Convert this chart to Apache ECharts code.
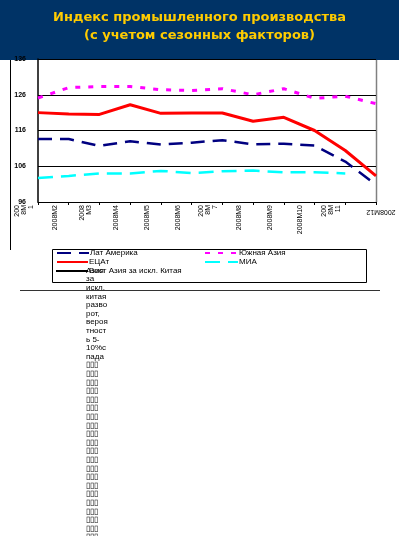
<!DOCTYPE html>
<html>
<head>
<meta charset="utf-8">
<script src="https://cdn.jsdelivr.net/npm/echarts@6/dist/echarts.min.js"></script>
<style>
  html, body { margin: 0; padding: 0; background: #fff; }
  #chart { width: 399px; height: 536px; }
</style>
</head>
<body>
<div id="chart"></div>
<script>
// месяцы и подписи оси
const months = ['2008M1', '2008M2', '2008M3', '2008M4', '2008M5', '2008M6',
  '2008M7', '2008M8', '2008M9', '2008M10', '2008M11', '2008M12'];
const monthLabels = ['200\n8M\n1', '2008M2', '2008\nM3', '2008M4', '2008M5', '2008M6',
  '200\n8M\n7', '2008M8', '2008M9', '2008M10', '200\n8M\n11', '2008M12'];

// ось Y
const yMin = 96;
const yMax = 136;
const yStep = 10;

// ряды
const latAm = [113.6, 113.6, 111.7, 113.0, 112.1, 112.6, 113.3, 112.1, 112.3, 111.8, 107.3, 100.8];
const southAsia = [125.1, 128.0, 128.3, 128.3, 127.4, 127.2, 127.7, 126.0, 127.7, 125.0, 125.6, 123.5];
const ecaAsia = [121.0, 120.6, 120.5, 123.2, 120.8, 120.9, 120.9, 118.6, 119.7, 116.0, 110.4, 103.3];
const mia = [102.7, 103.3, 104.0, 104.0, 104.7, 104.1, 104.6, 104.8, 104.3, 104.3, 104.0, null];
const eastAsia = [];

// хвост подписи легенды, который вылез за рамку
const overflowLines = ['Азия', 'за', 'искл.', 'китая', 'разво', 'рот,', 'вероя', 'тност', 'ь 5-', '10%с', 'пада']
  .concat(new Array(22).fill('▯▯▯'));

const font = '"Liberation Sans", Arial, sans-serif';

const myChart = echarts.init(document.getElementById('chart'));

const legendItem = (name, left, top, w) => ({
  data: [name],
  left: left,
  top: top,
  padding: 0,
  itemWidth: w,
  itemHeight: 8,
  itemGap: 0,
  itemStyle: { opacity: 0 },
  textStyle: { fontFamily: font, fontSize: 8, color: '#000', lineHeight: 9, padding: [0, 0, 0, -4] },
  selectedMode: false
});

const option = {
  animation: false,
  backgroundColor: '#fff',
  title: {
    text: 'Индекс промышленного производства\n(с учетом сезонных факторов)',
    left: 'center',
    top: 4,
    z: 10,
    textStyle: {
      color: '#FFCC00',
      fontFamily: '"DejaVu Sans", Verdana, sans-serif',
      fontWeight: 'bold',
      fontSize: 13,
      lineHeight: 18
    }
  },
  grid: { left: 38, right: 23, top: 59, bottom: 334 },
  xAxis: {
    type: 'category',
    data: months,
    boundaryGap: false,
    axisLine: { lineStyle: { color: '#000', width: 1 } },
    axisTick: { show: true, length: 3, lineStyle: { color: '#000' } },
    axisLabel: {
      interval: 0,
      rotate: 90,
      margin: 3,
      fontFamily: font,
      fontSize: 7,
      lineHeight: 7,
      color: '#000',
      // пустые строки сдвигают повернутую подпись влево от засечки
      formatter: (v, i) => (i === months.length - 1 ? '' : monthLabels[i] + '\n \n \n \n ')
    },
    splitLine: { show: false }
  },
  yAxis: {
    type: 'value',
    min: yMin,
    max: yMax,
    interval: yStep,
    axisLine: { show: true, lineStyle: { color: '#000', width: 1.5 } },
    axisTick: { show: false },
    axisLabel: { fontFamily: font, fontSize: 7, fontWeight: 'bold', color: '#000', margin: 12 },
    splitLine: { show: true, lineStyle: { color: '#000', width: 1 } }
  },
  legend: [
    legendItem('Лат Америка', 56, 248.5, 32),
    legendItem('ЕЦАт', 56, 257.5, 31),
    legendItem('Вост Азия за искл. Китая', 55, 266.5, 32),
    legendItem('Южная Азия', 204, 248.5, 33),
    legendItem('МИА', 204, 257.5, 33)
  ],
  series: [
    {
      name: 'Лат Америка', type: 'line', data: latAm, symbol: 'none', z: 4,
      color: '#000080',
      lineStyle: { color: '#000080', width: 2.5, type: [14, 8] }
    },
    {
      name: 'Южная Азия', type: 'line', data: southAsia, symbol: 'none', z: 3,
      color: '#FF00FF',
      lineStyle: { color: '#FF00FF', width: 3, type: [5, 8] }
    },
    {
      name: 'ЕЦАт', type: 'line', data: ecaAsia, symbol: 'none', z: 5,
      color: '#FF0000',
      lineStyle: { color: '#FF0000', width: 3 }
    },
    {
      name: 'МИА', type: 'line', data: mia, symbol: 'none', z: 3,
      color: '#00FFFF',
      lineStyle: { color: '#00FFFF', width: 2.5, type: [15, 8] }
    },
    {
      name: 'Вост Азия за искл. Китая', type: 'line', data: eastAsia, symbol: 'none',
      color: '#000000',
      lineStyle: { color: '#000000', width: 2.5 }
    }
  ],
  graphic: [
    // шапка слайда
    { type: 'rect', z: -10, shape: { x: 0, y: 0, width: 399, height: 60 }, style: { fill: '#003366' } },
    // рамка диаграммы
    { type: 'line', z: -5, shape: { x1: 10.5, y1: 60, x2: 10.5, y2: 250 }, style: { stroke: '#000', lineWidth: 1 } },
    { type: 'line', z: -5, shape: { x1: 376.5, y1: 60, x2: 376.5, y2: 202 }, style: { stroke: '#808080', lineWidth: 1.5 } },
    // рамка легенды
    { type: 'rect', z: -5, shape: { x: 52.5, y: 249.5, width: 314, height: 33 }, style: { fill: 'none', stroke: '#000', lineWidth: 1 } },
    { type: 'line', z: -5, shape: { x1: 20, y1: 290.5, x2: 380, y2: 290.5 }, style: { stroke: '#333', lineWidth: 1 } },
    // последняя подпись оси, перевёрнутая
    {
      type: 'text', x: 381, y: 212, rotation: Math.PI,
      style: { text: monthLabels[11], font: '7px ' + font, fill: '#000', align: 'center', verticalAlign: 'middle' }
    },
    // продолжение текста легенды
    {
      type: 'text', x: 86, y: 266.2,
      style: { text: overflowLines.join('\n'), font: '8px ' + font, lineHeight: 8.6, fill: '#000', verticalAlign: 'top' }
    }
  ]
};

option && myChart.setOption(option);
</script>
</body>
</html>
